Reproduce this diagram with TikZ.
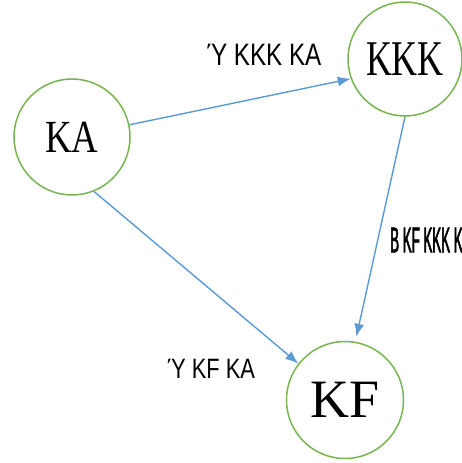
\documentclass[tikz,border=0pt]{standalone}
\usepackage{fontspec}
\setmainfont{Liberation Serif}
\newfontfamily\labelfont[FakeStretch=0.78]{Liberation Sans}
\newfontfamily\narrowlabelfont[FakeStretch=0.37, FakeBold=1.5]{Liberation Sans}
\newfontfamily\narrowserif[FakeStretch=0.8]{Liberation Serif}
\newfontfamily\narrowerserif[FakeStretch=0.72]{Liberation Serif}
\usepackage{tikz}
\usetikzlibrary{shapes.geometric, arrows.meta}
\definecolor{ringgreen}{RGB}{120,180,80}
\definecolor{edgeblue}{RGB}{91,155,213}
\tikzstyle{vertex} = [circle, draw=ringgreen, line width=1.5pt, fill=white, inner sep=0pt, minimum size=116pt, text centered]
\tikzstyle{arrow} = [draw=edgeblue, line width=1.4pt, -{Latex[length=13pt, width=10pt]}]
\tikzstyle{edgelabel} = [inner sep=0pt, text=black]

\begin{document}
\begin{tikzpicture}[x=1pt, y=-1pt]
                            \useasboundingbox (0, 0) rectangle (462, 463);
                            \node [vertex] (ka) at (72, 137) {\narrowserif\fontsize{46}{46}\selectfont KA};
                            \node [vertex, minimum size=114pt] (kkk) at (405, 59) {\narrowerserif\fontsize{50}{50}\selectfont KKK};
                            \node [vertex, minimum size=117pt] (kf) at (345, 400) {\fontsize{54}{54}\selectfont KF};
                            \draw [arrow] (ka.12) -- (kkk.200);
                            \draw [arrow, shorten >=5pt] (kkk.270) -- (kf.80);
                            \draw [arrow] (ka.292) -- (kf.142);
                            \node [edgelabel] (lab1) at (264, 55) {\labelfont\fontsize{31}{31}\selectfont Ύ KKK KA};
                            \node [edgelabel, anchor=west] (lab2) at (390, 240) {\narrowlabelfont\fontsize{36}{36}\selectfont B KF KKK KA};
                            \node [edgelabel] (lab3) at (211, 369) {\labelfont\fontsize{28}{28}\selectfont Ύ KF KA};
                        \end{tikzpicture}
\end{document}
